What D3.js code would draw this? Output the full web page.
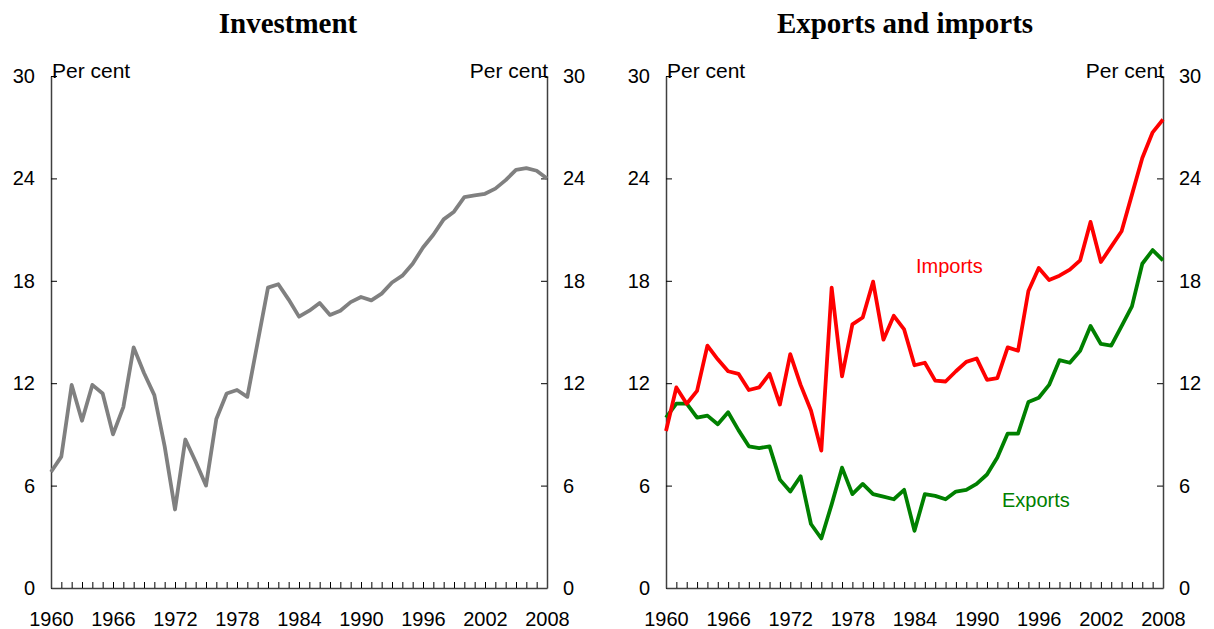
<!DOCTYPE html>
<html>
<head>
<meta charset="utf-8">
<script src="https://cdn.jsdelivr.net/npm/d3@7"></script>
<style>
  body { margin: 0; background: #fff; }
  svg text { font-family: "Liberation Sans", Arial, sans-serif; }
  .title { font-family: "Liberation Serif", "Times New Roman", serif !important; font-weight: bold; font-size: 29px; }
</style>
</head>
<body>
<svg id="chart"></svg>
<script>
// years 1960..2008
var years = d3.range(1960, 2009);

var investment = [6.8, 7.7, 11.9, 9.8, 11.9, 11.4, 9.0, 10.6, 14.1, 12.6,
                  11.3, 8.3, 4.6, 8.7, 7.4, 6.0, 9.9, 11.4, 11.6, 11.2,
                  14.4, 17.6, 17.8, 16.9, 15.9, 16.25, 16.7, 16.0, 16.25, 16.75,
                  17.05, 16.85, 17.25, 17.9, 18.3, 19.0, 19.95, 20.7, 21.6, 22.05,
                  22.9, 23.0, 23.1, 23.4, 23.9, 24.5, 24.6, 24.45, 24.0];

var imports = [9.2, 11.75, 10.8, 11.55, 14.2, 13.4, 12.7, 12.55, 11.6, 11.75,
               12.55, 10.75, 13.7, 11.9, 10.4, 8.05, 17.6, 12.4, 15.45, 15.85,
               17.95, 14.55, 15.95, 15.15, 13.05, 13.2, 12.15, 12.1, 12.7, 13.25,
               13.45, 12.2, 12.3, 14.1, 13.9, 17.4, 18.75, 18.05, 18.3, 18.65,
               19.2, 21.45, 19.1, 20.0, 20.9, 23.05, 25.2, 26.7, 27.45];

var exports_ = [9.98, 10.8, 10.8, 9.98, 10.1, 9.6, 10.3, 9.25, 8.3, 8.2,
                8.3, 6.35, 5.65, 6.55, 3.75, 2.9, 4.9, 7.05, 5.5, 6.1,
                5.5, 5.35, 5.2, 5.75, 3.35, 5.5, 5.4, 5.2, 5.65, 5.75,
                6.1, 6.65, 7.65, 9.05, 9.05, 10.9, 11.15, 11.9, 13.35, 13.2,
                13.9, 15.35, 14.3, 14.2, 15.35, 16.5, 19.0, 19.8, 19.2];

var yTicks = [0, 6, 12, 18, 24, 30];
var xLabelYears = [1960, 1966, 1972, 1978, 1984, 1990, 1996, 2002, 2008];

var width = 1214, height = 629;
var svg = d3.select("#chart").attr("width", width).attr("height", height);

var axisColor = "#404040";

function drawPanel(opts) {
    var x = d3.scaleLinear().domain([1960, 2008]).range([opts.x0, opts.x1]);
    var y = d3.scaleLinear().domain([0, 30]).range([588, 76]);

    var g = svg.append("g");

    // title
    g.append("text")
        .attr("class", "title")
        .attr("x", opts.tx)
        .attr("y", 33)
        .attr("text-anchor", "middle")
        .text(opts.title);

    // left axis
    g.append("g")
        .attr("transform", "translate(" + opts.x0 + ",0)")
        .call(d3.axisLeft(y).tickValues(yTicks).tickSize(-6).tickSizeOuter(0).tickPadding(16));

    // right axis
    g.append("g")
        .attr("transform", "translate(" + opts.x1 + ",0)")
        .call(d3.axisRight(y).tickValues(yTicks).tickSize(-6).tickSizeOuter(0).tickPadding(16));

    // bottom axis: yearly ticks
    g.append("g")
        .attr("transform", "translate(0,588)")
        .call(d3.axisBottom(x).tickValues(years.slice(1, -1)).tickSize(-6).tickSizeOuter(0).tickFormat(""));

    // bottom axis labels
    var lab = g.append("g")
        .attr("transform", "translate(0,588)")
        .call(d3.axisBottom(x).tickValues(xLabelYears).tickSize(0).tickPadding(24).tickFormat(d3.format("d")));
    lab.select(".domain").remove();

    g.selectAll(".domain").attr("stroke", axisColor).attr("stroke-width", 1.5);
    g.selectAll(".tick line").attr("stroke", "#000");
    g.selectAll(".tick text").attr("font-size", 20).attr("fill", "#000")
        .attr("font-family", "'Liberation Sans', Arial, sans-serif");

    // per cent labels
    g.append("text").attr("x", opts.x0 + 1).attr("y", 78).attr("font-size", 21).text("Per cent");
    g.append("text").attr("x", opts.x1 + 1).attr("y", 78).attr("font-size", 21)
        .attr("text-anchor", "end").text("Per cent");

    var line = d3.line()
        .x(function(d, i) { return x(years[i]); })
        .y(function(d) { return y(d); });

    opts.series.forEach(function(s) {
        g.append("path")
            .datum(s.values)
            .attr("fill", "none")
            .attr("stroke", s.color)
            .attr("stroke-width", 3.8)
            .attr("stroke-linejoin", "round")
            .attr("d", line);
        if (s.label) {
            g.append("text")
                .attr("x", s.lx).attr("y", s.ly)
                .attr("font-size", 20)
                .attr("fill", s.color)
                .text(s.label);
        }
    });
}

drawPanel({
    title: "Investment",
    tx: 288,
    x0: 51, x1: 547,
    series: [{ values: investment, color: "#808080" }]
});

drawPanel({
    title: "Exports and imports",
    tx: 905,
    x0: 666, x1: 1163,
    series: [
        { values: exports_, color: "#008000", label: "Exports", lx: 1002, ly: 507 },
        { values: imports, color: "#ff0000", label: "Imports", lx: 916, ly: 273 }
    ]
});
</script>
</body>
</html>
